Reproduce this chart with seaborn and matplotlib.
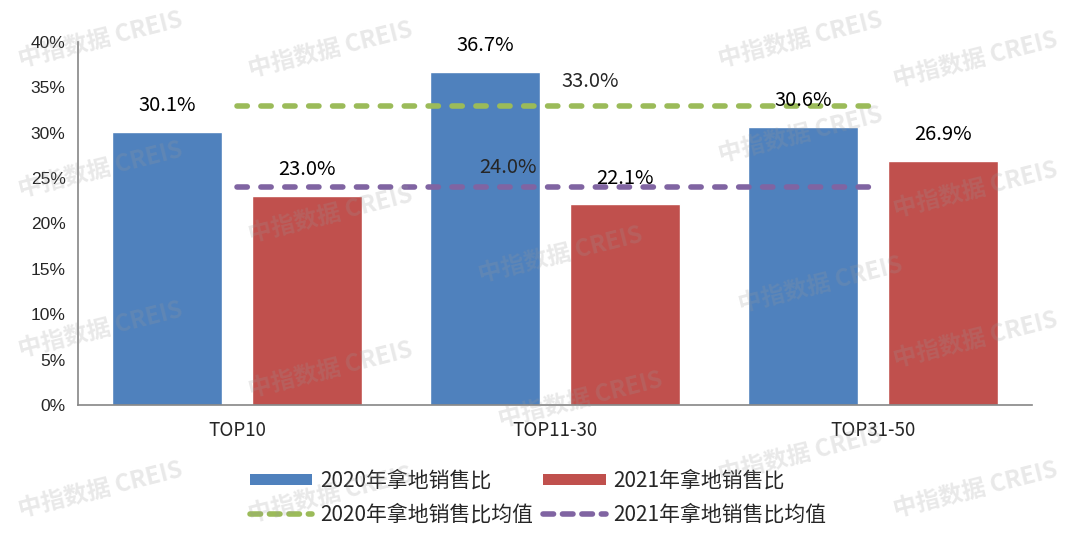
import matplotlib
matplotlib.use("Agg")
import matplotlib.pyplot as plt
import seaborn as sns
import pandas as pd
from matplotlib.lines import Line2D
from matplotlib.patches import Patch

categories = ["TOP10", "TOP11-30", "TOP31-50"]
ratio_2020 = [30.1, 36.7, 30.6]
ratio_2021 = [23.0, 22.1, 26.9]
avg_2020 = 33.0
avg_2021 = 24.0
series_names = ["2020年拿地销售比", "2021年拿地销售比"]
avg_names = ["2020年拿地销售比均值", "2021年拿地销售比均值"]
yticks = [0, 5, 10, 15, 20, 25, 30, 35, 40]

BLUE = "#4F81BD"
RED = "#C0504D"
GREEN = "#9BBB59"
PURPLE = "#8064A2"
AXIS_GRAY = "#868686"
CJK = ["Noto Sans CJK SC", "DejaVu Sans"]
DASH = (0, (1.85, 2.45))

df = pd.DataFrame({
    "cat": categories * 2,
    "val": ratio_2020 + ratio_2021,
    "series": [series_names[0]] * 3 + [series_names[1]] * 3,
})

sns.set_theme(style="white")
plt.rcParams["font.family"] = CJK

fig = plt.figure(figsize=(10.76, 5.37), dpi=100)
ax = fig.add_axes([0.0725, 0.2458, 0.8865, 0.676])

sns.barplot(data=df, x="cat", y="val", hue="series", order=categories,
            hue_order=series_names, palette=[BLUE, RED], width=0.88, gap=0.214,
            saturation=1, legend=False, ax=ax)

# average lines run from first to last category center
ax.hlines(avg_2020, 0, 2, colors=GREEN, linestyles=DASH, linewidth=4,
          capstyle="round", zorder=3)
ax.hlines(avg_2021, 0, 2, colors=PURPLE, linestyles=DASH, linewidth=4,
          capstyle="round", zorder=3)

for cont in ax.containers:
    for bar in cont:
        h = bar.get_height()
        ax.annotate(f"{h:.1f}%", (bar.get_x() + bar.get_width() / 2, h),
                    xytext=(0, 19), textcoords="offset points", ha="center",
                    va="center", fontsize=14.5, family=CJK, color="black", zorder=5)

ax.annotate(f"{avg_2020:.1f}%", (1.11, avg_2020), xytext=(0, 17),
            textcoords="offset points", ha="center", va="center", fontsize=14.5,
            family=CJK, zorder=5)
ax.annotate(f"{avg_2021:.1f}%", (0.852, avg_2021), xytext=(0, 14),
            textcoords="offset points", ha="center", va="center", fontsize=14.5,
            family=CJK, zorder=5)

ax.set_xlim(-0.5, 2.5)
ax.set_ylim(0, 40)
ax.set_yticks(yticks)
ax.set_yticklabels([f"{t}%" for t in yticks], family=["Liberation Sans", "DejaVu Sans"],
                   fontsize=12.5)
ax.set_xticks([0, 1, 2])
ax.set_xticklabels(categories, fontsize=13.5, family=CJK)
ax.tick_params(axis="x", length=0, pad=11)
ax.set_xticks([-0.5, 0.5, 1.5, 2.5], minor=True)
ax.tick_params(axis="x", which="minor", length=5, color=AXIS_GRAY, width=1.2, direction="out")
ax.tick_params(axis="y", length=5, color=AXIS_GRAY, width=1.2, direction="out", pad=4)
ax.set_xlabel("")
ax.set_ylabel("")
for s in ["top", "right"]:
    ax.spines[s].set_visible(False)
for s in ["left", "bottom"]:
    ax.spines[s].set_color(AXIS_GRAY)
    ax.spines[s].set_linewidth(1.2)

handles = [
    Patch(facecolor=BLUE, edgecolor="none"),
    Line2D([0], [0], color=GREEN, lw=4, linestyle=(0, (1.9, 1.6)), dash_capstyle="round"),
    Patch(facecolor=RED, edgecolor="none"),
    Line2D([0], [0], color=PURPLE, lw=4, linestyle=(0, (1.9, 1.6)), dash_capstyle="round"),
]
labels = [series_names[0], avg_names[0], series_names[1], avg_names[1]]
leg = fig.legend(handles, labels, ncol=2, loc="center", bbox_to_anchor=(0.5, 0.073),
                 frameon=False, prop={"family": CJK, "size": 15}, handlelength=3.0,
                 handleheight=0.4, handletextpad=0.35, columnspacing=0.5, labelspacing=0.55)

# watermark
marks = [(100, 40), (330, 50), (800, 40), (975, 60), (100, 170), (330, 215), (560, 255),
         (800, 135), (975, 190), (100, 330), (330, 370), (580, 400), (820, 285),
         (975, 340), (100, 490), (330, 495), (800, 455), (975, 490)]
for x, y in marks:
    fig.text(x / 1076, 1 - y / 537, "中指数据 CREIS", fontsize=17, fontweight="bold",
             color="#9a9a9a", alpha=0.22, rotation=14, ha="center", va="center",
             family=CJK, zorder=10)

fig.savefig("out.png", dpi=100)
